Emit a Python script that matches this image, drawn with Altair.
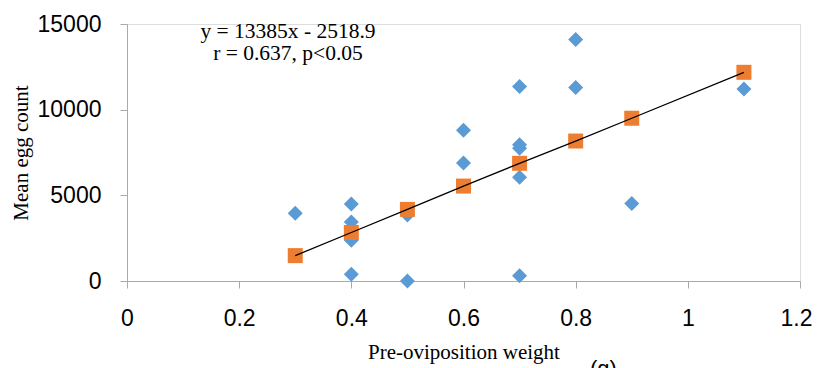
import altair as alt
import pandas as pd

# Observed points (blue diamonds)
obs_weight = [0.3, 0.4, 0.4, 0.4, 0.4, 0.5, 0.5, 0.6, 0.6,
              0.7, 0.7, 0.7, 0.7, 0.7, 0.8, 0.8, 0.9, 1.1]
obs_eggs = [3950, 4500, 3450, 2380, 400, 3850, 0, 8800, 6880,
            11350, 7950, 7750, 6050, 300, 14100, 11300, 4520, 11200]

# Fitted values (orange squares) and trend line
fit_weight = [0.3, 0.4, 0.5, 0.6, 0.7, 0.8, 0.9, 1.1]
fit_eggs = [1480, 2830, 4180, 5540, 6870, 8170, 9500, 12180]

x_ticks = [0, 0.2, 0.4, 0.6, 0.8, 1, 1.2]
y_ticks = [0, 5000, 10000, 15000]

eq_line1 = "y = 13385x - 2518.9"
eq_line2 = "r = 0.637, p<0.05"
x_title = "Pre-oviposition weight"
x_unit = "(g)"
y_title = "Mean egg count"

obs = pd.DataFrame({"w": obs_weight, "e": obs_eggs})
fit = pd.DataFrame({"w": fit_weight, "e": fit_eggs})

AXIS_COL = "#aaaaaa"
SANS = "Liberation Sans"
SERIF = "Liberation Serif"

xscale = alt.Scale(domain=[0, 1.2], nice=False, zero=False)
yscale = alt.Scale(domain=[0, 15000], nice=False)

xaxis = alt.Axis(values=x_ticks, format="~g", grid=False, domainColor=AXIS_COL,
                 tickColor=AXIS_COL, tickSize=7, labelFont=SANS, labelFontSize=23,
                 labelColor="#000000", labelPadding=19, labelFlush=False,
                 labelOffset={"condition": {"test": "datum.value >= 1.15", "value": -4},
                              "value": 0},
                 title=x_title, titleFont=SERIF, titleFontSize=21,
                 titleFontWeight="normal", titleColor="#000000",
                 titleBaseline="alphabetic", titleY=77, titleX=336.5, titleAlign="center")
yaxis = alt.Axis(values=y_ticks, format="d", grid=False, domainColor=AXIS_COL,
                 tickColor=AXIS_COL, tickSize=7, labelFont=SANS, labelFontSize=23,
                 labelColor="#000000", labelPadding=19, labelFlush=False,
                 title=y_title, titleFont=SERIF, titleFontSize=21,
                 titleFontWeight="normal", titleColor="#000000",
                 titleBaseline="alphabetic", titleAngle=270, titleX=-100,
                 titleY=128.5, titleAlign="center")

pts = alt.Chart(obs).mark_point(shape="diamond", filled=True, size=225,
                                color="#5B9BD5", opacity=1).encode(
    x=alt.X("w:Q", scale=xscale, axis=xaxis),
    y=alt.Y("e:Q", scale=yscale, axis=yaxis),
)

sq = alt.Chart(fit).mark_point(shape="square", filled=True, size=225,
                               color="#ED7D31", opacity=1).encode(
    x=alt.X("w:Q", scale=xscale),
    y=alt.Y("e:Q", scale=yscale),
)

line = alt.Chart(fit).mark_line(color="#000000", strokeWidth=1.3).encode(
    x=alt.X("w:Q", scale=xscale),
    y=alt.Y("e:Q", scale=yscale),
)

def label(txt, x, y, font, size, align="center"):
    return alt.Chart(pd.DataFrame({"t": [txt]})).mark_text(
        font=font, fontSize=size, color="#000000", align=align,
        baseline="alphabetic").encode(text="t:N", x=alt.value(x), y=alt.value(y))

t1 = label(eq_line1, 161, 14, SERIF, 21.5)
t2 = label(eq_line2, 161, 36, SERIF, 21.5)
t3 = label(x_unit, 463, 352, SANS, 22, align="left")

chart = alt.layer(pts, sq, line, t1, t2, t3).properties(
    width=673, height=257,
    autosize=alt.AutoSizeParams(type="none"),
    padding={"left": 119, "top": 16, "right": 12, "bottom": 88},
).configure_view(stroke=None).configure(background="#ffffff")

chart.save("out.html", embed_options={"renderer": "svg", "actions": False})
